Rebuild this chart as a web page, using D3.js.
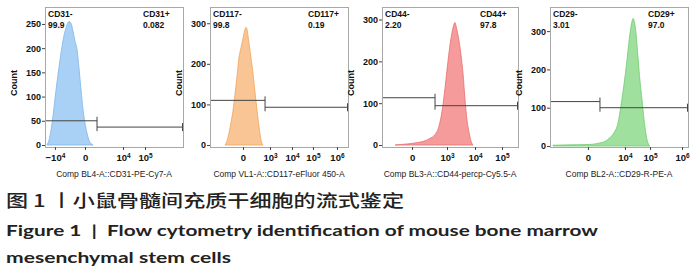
<!DOCTYPE html>
<html><head><meta charset="utf-8">
<script src="https://cdn.jsdelivr.net/npm/d3@7"></script>
<style>body{margin:0;background:#fff}svg{display:block}</style></head>
<body><svg id="c" width="700" height="280"></svg>
<script>
// ---------- DATA ----------
const markers = ["CD31", "CD117", "CD44", "CD29"];
const axisTitles = ["Comp BL4-A::CD31-PE-Cy7-A", "Comp VL1-A::CD117-eFluor 450-A", "Comp BL3-A::CD44-percp-Cy5.5-A", "Comp BL2-A::CD29-R-PE-A"];
const negPct = ["99.9", "99.8", "2.20", "3.01"];
const posPct = ["0.082", "0.19", "97.8", "97.0"];
const yMax = [285, 340, 330, 363];
const yTicks = [[0, 50, 100, 150, 200, 250], [0, 100, 200, 300], [0, 100, 200, 300], [0, 100, 200, 300]];
const xTickPos = [[72, 290, 565, 725], [239, 435, 594, 746, 920], [221, 478, 684, 882], [275, 543, 725, 957]];
const xTickLabels = [["−10^4", "0", "10^4", "10^5"], ["0", "10^3", "10^4", "10^5", "10^6"], ["0", "10^3", "10^4", "10^5"], ["0", "10^4", "10^5", "10^6"]];
const gateSplit = [377, 399, 390, 362];
const gateNegCount = [50, 110, 113, 116];
const gatePosCount = [37, 93, 94, 100];

const cd31Channel = [14, 29, 43, 58, 72, 87, 101, 116, 130, 145, 159, 174, 188, 203, 217, 232, 246, 261, 275, 290, 304, 319, 333, 348];
const cd31Count   = [0, 10, 30, 60, 95, 130, 160, 190, 215, 235, 248, 255, 252, 235, 215, 198, 160, 115, 75, 45, 25, 10, 3, 0];
const cd117Channel = [109, 123, 138, 152, 167, 181, 196, 210, 225, 239, 254, 261, 268, 283, 297, 312, 326, 341, 355, 370, 384];
const cd117Count   = [0, 10, 30, 55, 85, 125, 170, 215, 240, 262, 285, 290, 285, 250, 215, 175, 130, 85, 45, 12, 0];
const cd44Channel = [96, 169, 243, 316, 353, 390, 419, 441, 463, 485, 507, 522, 537, 544, 551, 566, 581, 596, 610, 625, 640, 654, 669];
const cd44Count   = [0, 2, 5, 10, 16, 25, 45, 80, 135, 200, 255, 280, 293, 285, 275, 250, 215, 170, 110, 60, 30, 10, 0];
const cd29Channel = [22, 145, 290, 362, 399, 435, 464, 493, 514, 536, 558, 580, 594, 601, 609, 623, 638, 652, 667, 681, 696, 710, 725];
const cd29Count   = [2, 3, 4, 8, 12, 22, 35, 60, 105, 160, 225, 295, 325, 333, 328, 295, 230, 170, 120, 70, 30, 8, 0];

const channels = [cd31Channel, cd117Channel, cd44Channel, cd29Channel];
const counts = [cd31Count, cd117Count, cd44Count, cd29Count];

const captionZh = "图 1 丨小鼠骨髓间充质干细胞的流式鉴定";
const captionEn1 = "Figure 1\u00a0\u00a0|\u00a0\u00a0Flow cytometry identification of mouse bone marrow";
const captionEn2 = "mesenchymal stem cells";

// ---------- LAYOUT / STYLE ----------
const boxLeft = [45, 210, 382, 550];
const boxWidth = [138, 138, 136, 138];
const boxTop = 7, boxBottom = 147;
const zeroY = [145, 145, 145, 146];
const fills = ["#a9d0f5", "#f9c594", "#f59b9b", "#9fe09f"];
const edges = ["#7fb6ea", "#f0a35c", "#e86f6f", "#6fcc6f"];
const font = "'Liberation Sans Narrow','Liberation Sans',Arial,sans-serif";

const svg = d3.select("#c");

markers.forEach((m, i) => {
  const g = svg.append("g");
  const L = boxLeft[i], W = boxWidth[i];
  const x = d3.scaleLinear().domain([0, 1000]).range([L, L + W]);
  const y = d3.scaleLinear().domain([0, yMax[i]]).range([zeroY[i], boxTop]);

  // box
  g.append("rect").attr("x", L + 0.5).attr("y", boxTop + 0.5).attr("width", W).attr("height", boxBottom - boxTop)
    .attr("fill", "none").attr("stroke", "#a8a8a8").attr("stroke-width", 1);

  // histogram
  const pts = channels[i].map((c, k) => [c, counts[i][k]]);
  const area = d3.area().x(d => x(d[0])).y0(y(0)).y1(d => y(d[1])).curve(d3.curveMonotoneX);
  g.append("path").datum(pts).attr("d", area).attr("fill", fills[i]).attr("stroke", edges[i]).attr("stroke-width", 0.8);

  // y axis
  const ya = d3.axisLeft(y).tickValues(yTicks[i]).tickSize(3).tickFormat(d3.format("d"));
  const yg = g.append("g").attr("transform", `translate(${L},0)`).call(ya);
  yg.select(".domain").remove();
  yg.selectAll("line").attr("stroke", "#444");
  yg.selectAll("text").attr("font-family", font).attr("font-size", 9).attr("font-weight", "bold").attr("fill", "#111").attr("x", -4);

  // x axis
  const xa = d3.axisBottom(x).tickValues(xTickPos[i]).tickSize(3).tickFormat("");
  const xg = g.append("g").attr("transform", `translate(0,${boxBottom})`).call(xa);
  xg.select(".domain").remove();
  xg.selectAll("line").attr("stroke", "#444");
  xg.selectAll(".tick").each(function (d, k) {
    const lab = xTickLabels[i][k];
    const t = d3.select(this).append("text").attr("y", 14).attr("text-anchor", "middle")
      .attr("font-family", font).attr("font-size", 9.5).attr("font-weight", "bold").attr("fill", "#111");
    const parts = lab.split("^");
    t.append("tspan").text(parts[0]);
    if (parts[1]) t.append("tspan").attr("dy", -3.5).attr("font-size", 6.5).text(parts[1]);
  });

  // axis title
  g.append("text").attr("x", L + W / 2).attr("y", 177).attr("text-anchor", "middle")
    .attr("font-family", font).attr("font-size", 8.5).attr("fill", "#222").text(axisTitles[i]);
  // y title
  g.append("text").attr("transform", `translate(${L - 28},${(boxTop + boxBottom) / 2 + 6}) rotate(-90)`)
    .attr("text-anchor", "middle").attr("font-family", font).attr("font-size", 9).attr("font-weight", "bold")
    .attr("fill", "#111").text("Count");

  // gates
  const gs = x(gateSplit[i]);
  const gn = y(gateNegCount[i]), gp = y(gatePosCount[i]);
  const gc = "#444";
  g.append("line").attr("x1", L + 1).attr("x2", gs).attr("y1", gn).attr("y2", gn).attr("stroke", gc);
  g.append("line").attr("x1", gs).attr("x2", L + W).attr("y1", gp).attr("y2", gp).attr("stroke", gc);
  g.append("line").attr("x1", gs).attr("x2", gs).attr("y1", gn - 4).attr("y2", gp + 4).attr("stroke", gc);
  g.append("line").attr("x1", L + W - 0.5).attr("x2", L + W - 0.5).attr("y1", gp - 4).attr("y2", gp + 4).attr("stroke", gc);

  // gate labels
  const lab = (tx, ty, s) => g.append("text").attr("x", tx).attr("y", ty).attr("font-family", font)
    .attr("font-size", 8.5).attr("font-weight", "bold").attr("fill", "#111").text(s);
  lab(L + 3, 17, m + "-");
  lab(L + 3, 28, negPct[i]);
  lab(L + 98, 17, m + "+");
  lab(L + 98, 28, posPct[i]);
});

// captions
svg.append("text").attr("x", 6).attr("y", 207).attr("font-family", "'Noto Sans CJK SC',sans-serif").attr("font-weight", 500)
  .attr("font-size", 17).attr("fill", "#222").attr("textLength", 398).attr("lengthAdjust", "spacingAndGlyphs").text(captionZh);
svg.append("text").attr("x", 6).attr("y", 236).attr("font-family", "Lato,'Open Sans',sans-serif").attr("font-weight", "bold")
  .attr("font-size", 16).attr("fill", "#222").attr("textLength", 592).attr("lengthAdjust", "spacingAndGlyphs").text(captionEn1);
svg.append("text").attr("x", 6).attr("y", 263).attr("font-family", "Lato,'Open Sans',sans-serif").attr("font-weight", "bold")
  .attr("font-size", 16).attr("fill", "#222").attr("textLength", 225).attr("lengthAdjust", "spacingAndGlyphs").text(captionEn2);
</script></body></html>
